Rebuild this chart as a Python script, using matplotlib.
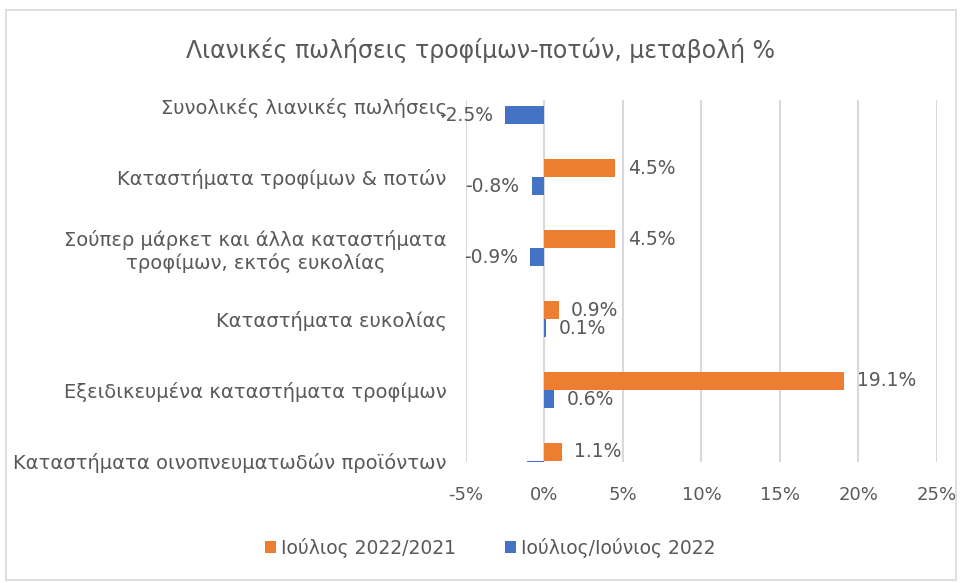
import matplotlib
matplotlib.use("Agg")
import matplotlib.pyplot as plt
from matplotlib.patches import Rectangle
import numpy as np

# data (% change), NaN = no bar
categories = [
    "Συνολικές λιανικές πωλήσεις",
    "Καταστήματα τροφίμων & ποτών",
    "Σούπερ μάρκετ και άλλα καταστήματα\nτροφίμων, εκτός ευκολίας",
    "Καταστήματα ευκολίας",
    "Εξειδικευμένα καταστήματα τροφίμων",
    "Καταστήματα οινοπνευματωδών προϊόντων",
]
yoy = [np.nan, 4.5, 4.5, 0.9, 19.1, 1.1]        # Ιούλιος 2022/2021
mom = [-2.5, -0.8, -0.9, 0.1, 0.6, -1.1]        # Ιούλιος/Ιούνιος 2022
series_names = ["Ιούλιος 2022/2021", "Ιούλιος/Ιούνιος 2022"]
xticks = [-5, 0, 5, 10, 15, 20, 25]

ORANGE, BLUE = "#ED7D31", "#4472C4"
GREY = "#595959"
plt.rcParams["font.family"] = ["DejaVu Sans"]

fig = plt.figure(figsize=(9.62, 5.83), dpi=100)
fig.patches.append(Rectangle((0.006, 0.006), 0.988, 0.976, transform=fig.transFigure,
                             fill=False, ec="#d9d9d9", lw=1.2))
ax = fig.add_axes([466 / 962, 1 - 462 / 583, (937 - 466) / 962, (462 - 100) / 583])

y = np.arange(len(categories))
h = 0.254
ax.barh(y - h / 2, yoy, height=h, color=ORANGE, label=series_names[0], zorder=3)
ax.barh(y + h / 2, mom, height=h, color=BLUE, label=series_names[1], zorder=3)

ax.set_xlim(-5, 25)
ax.set_ylim(5.014, -0.085)
ax.set_xticks(xticks)
ax.set_xticklabels([f"{t}%" for t in xticks])
ax.set_yticks(y)
ax.set_yticklabels(categories, multialignment="center")
ax.tick_params(axis="x", length=0, pad=17, labelsize=13, labelcolor=GREY)
ax.tick_params(axis="y", length=0, pad=14, labelsize=14, labelcolor=GREY)
ax.grid(axis="x", color="#d9d9d9", lw=1.5, zorder=0)
for s in ax.spines.values():
    s.set_visible(False)

# data labels, outside end (hidden when the bar end is outside the plot area)
for vals, off in ((yoy, -h / 2), (mom, h / 2)):
    for yi, v in zip(y, vals):
        if np.isnan(v):
            continue
        ax.annotate(f"{v:.1f}%", (v, yi + off), xytext=(9 if v >= 0 else -9, 0),
                    textcoords="offset points", ha="left" if v >= 0 else "right",
                    va="center", fontsize=13.5, color=GREY, annotation_clip=True,
                    clip_on=False)

fig.text(0.5, 1 - 50 / 583, "Λιανικές πωλήσεις τροφίμων-ποτών, μεταβολή %",
         ha="center", va="center", fontsize=17, color=GREY)
fig.legend(loc="center", bbox_to_anchor=(490 / 962, 1 - 548 / 583), ncol=2,
           frameon=False, fontsize=13.5, labelcolor=GREY, handlelength=0.6,
           handleheight=0.6, handletextpad=0.25, columnspacing=2.6)

fig.savefig("out.png", dpi=100)
